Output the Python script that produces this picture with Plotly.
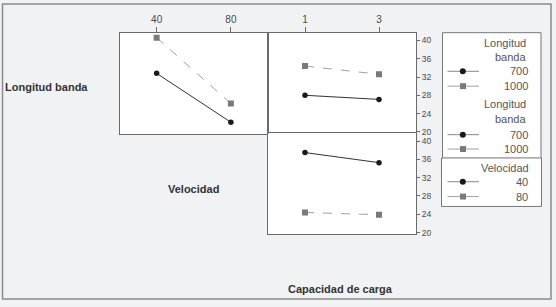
import plotly.graph_objects as go

# ---- data ----
velocidad_levels = [40, 80]
capacidad_levels = [1, 3]
longitud_700_vs_velocidad = [32.8, 22.1]
longitud_1000_vs_velocidad = [40.6, 26.2]
longitud_700_vs_capacidad = [28.0, 27.1]
longitud_1000_vs_capacidad = [34.4, 32.6]
velocidad_40_vs_capacidad = [37.5, 35.3]
velocidad_80_vs_capacidad = [24.4, 23.9]
y_ticks = [20, 24, 28, 32, 36, 40]

W, H = 556, 307
def px(x):
    return x / W
def py(y):
    return 1 - y / H

FONT = "Liberation Sans"
DARK = "#1a1a1a"
GRAY = "#7a7a7a"
LGRAY = "#a0a0a0"
AXC = "#6a6a6a"
TXT = "#4a4a4a"

fig = go.Figure()

def add_pair(x, y_circ, y_sq, xa, ya):
    fig.add_trace(go.Scatter(x=x, y=y_circ, mode="lines+markers", xaxis=xa, yaxis=ya,
                             line=dict(color="#333333", width=1),
                             marker=dict(symbol="circle", size=5.5, color=DARK),
                             showlegend=False, hoverinfo="skip"))
    fig.add_trace(go.Scatter(x=x, y=y_sq, mode="lines+markers", xaxis=xa, yaxis=ya,
                             line=dict(color=LGRAY, width=1, dash="dash"),
                             marker=dict(symbol="square", size=6, color=GRAY),
                             showlegend=False, hoverinfo="skip"))

add_pair(velocidad_levels, longitud_700_vs_velocidad, longitud_1000_vs_velocidad, "x", "y")
add_pair(capacidad_levels, longitud_700_vs_capacidad, longitud_1000_vs_capacidad, "x2", "y2")
add_pair(capacidad_levels, velocidad_40_vs_capacidad, velocidad_80_vs_capacidad, "x3", "y3")

yr = [19.6, 41.7]
common = dict(showgrid=False, zeroline=False, showline=True, mirror=True,
              linecolor=AXC, linewidth=1, tickcolor=AXC,
              tickfont=dict(family=FONT, size=10, color=TXT))

top_dom = [py(135), py(33)]
bot_dom = [py(236.7), py(134.7)]
left_dom = [px(119.5), px(268)]
right_dom = [px(268), px(416)]

fig.update_layout(
    xaxis=dict(domain=left_dom, range=[20, 100], tickvals=velocidad_levels, side="top",
               ticks="outside", ticklen=5, anchor="y", **common),
    yaxis=dict(domain=top_dom, range=yr, showticklabels=False, ticks="", anchor="x", **common),
    xaxis2=dict(domain=right_dom, range=[0, 4], tickvals=capacidad_levels, side="top",
                ticks="outside", ticklen=5, anchor="y2", **common),
    yaxis2=dict(domain=top_dom, range=yr, tickvals=y_ticks, side="right", ticks="outside",
                ticklen=3, anchor="x2",
                **{**common, "tickfont": dict(family=FONT, size=8.5, color=TXT)}),
    xaxis3=dict(domain=right_dom, range=[0, 4], showticklabels=False, ticks="", anchor="y3", **common),
    yaxis3=dict(domain=bot_dom, range=yr, tickvals=y_ticks, side="right", ticks="outside",
                ticklen=3, anchor="x3",
                **{**common, "tickfont": dict(family=FONT, size=8.5, color=TXT)}),
    width=W, height=H, margin=dict(l=0, r=0, t=0, b=0),
    paper_bgcolor="#f1f2f4", plot_bgcolor="white", showlegend=False,
)

shapes = []
annots = []
# outer frame
shapes.append(dict(type="rect", xref="paper", yref="paper", x0=px(2.5), x1=px(551),
                   y0=py(302), y1=py(4), line=dict(color="#8a8a8a", width=1.5)))

# bold factor labels
def label(text, x, y, xanchor="center"):
    annots.append(dict(text=f"<b>{text}</b>", x=px(x), y=py(y), xref="paper", yref="paper",
                       xanchor=xanchor, yanchor="middle", showarrow=False,
                       font=dict(family=FONT, size=11, color="#333333")))
label("Longitud banda", 3, 88, "left")
label("Velocidad", 193, 191)
label("Capacidad de carga", 340, 292)

# legends
def box(x0, x1, y0, y1):
    shapes.append(dict(type="rect", xref="paper", yref="paper", x0=px(x0), x1=px(x1),
                       y0=py(y1), y1=py(y0), line=dict(color="#777777", width=1),
                       fillcolor="white", layer="below"))

def ltext(text, y, xr=527.5):
    annots.append(dict(text=text, x=px(xr), y=py(y), xref="paper", yref="paper",
                       xanchor="right", yanchor="middle", showarrow=False,
                       font=dict(family=FONT, size=11, color="#555555")))

def lmark(y, kind):
    shapes.append(dict(type="line", xref="paper", yref="paper", x0=px(447.5), x1=px(479),
                       y0=py(y), y1=py(y), line=dict(color="#888888" if kind == "c" else "#a0a0a0", width=1)))
    if kind == "c":
        shapes.append(dict(type="circle", xref="paper", yref="paper", x0=px(459.8), x1=px(465.8),
                           y0=py(y + 3), y1=py(y - 3), fillcolor=DARK, line=dict(color=DARK, width=0)))
    else:
        shapes.append(dict(type="rect", xref="paper", yref="paper", x0=px(460), x1=px(466),
                           y0=py(y + 3), y1=py(y - 3), fillcolor=GRAY, line=dict(color=GRAY, width=0)))

box(442.5, 541, 33, 160)
box(441.5, 541.5, 159.5, 208.5)

ltext("Longitud", 43.5)
ltext("banda", 58)
lmark(72, "c"); ltext("700", 72, 530)
lmark(87, "s"); ltext("1000", 87, 530)
ltext("Longitud", 105.5)
ltext("banda", 120)
lmark(136, "c"); ltext("700", 136, 530)
lmark(150.5, "s"); ltext("1000", 150.5, 530)
ltext("Velocidad", 169.5, 531)
lmark(183.5, "c"); ltext("40", 183.5, 530)
lmark(198.5, "s"); ltext("80", 198.5, 530)

fig.update_layout(shapes=shapes, annotations=annots)
fig.write_html("out.html", config={"displayModeBar": False},
               post_script="document.body.style.margin='0';document.body.style.overflow='hidden';")
